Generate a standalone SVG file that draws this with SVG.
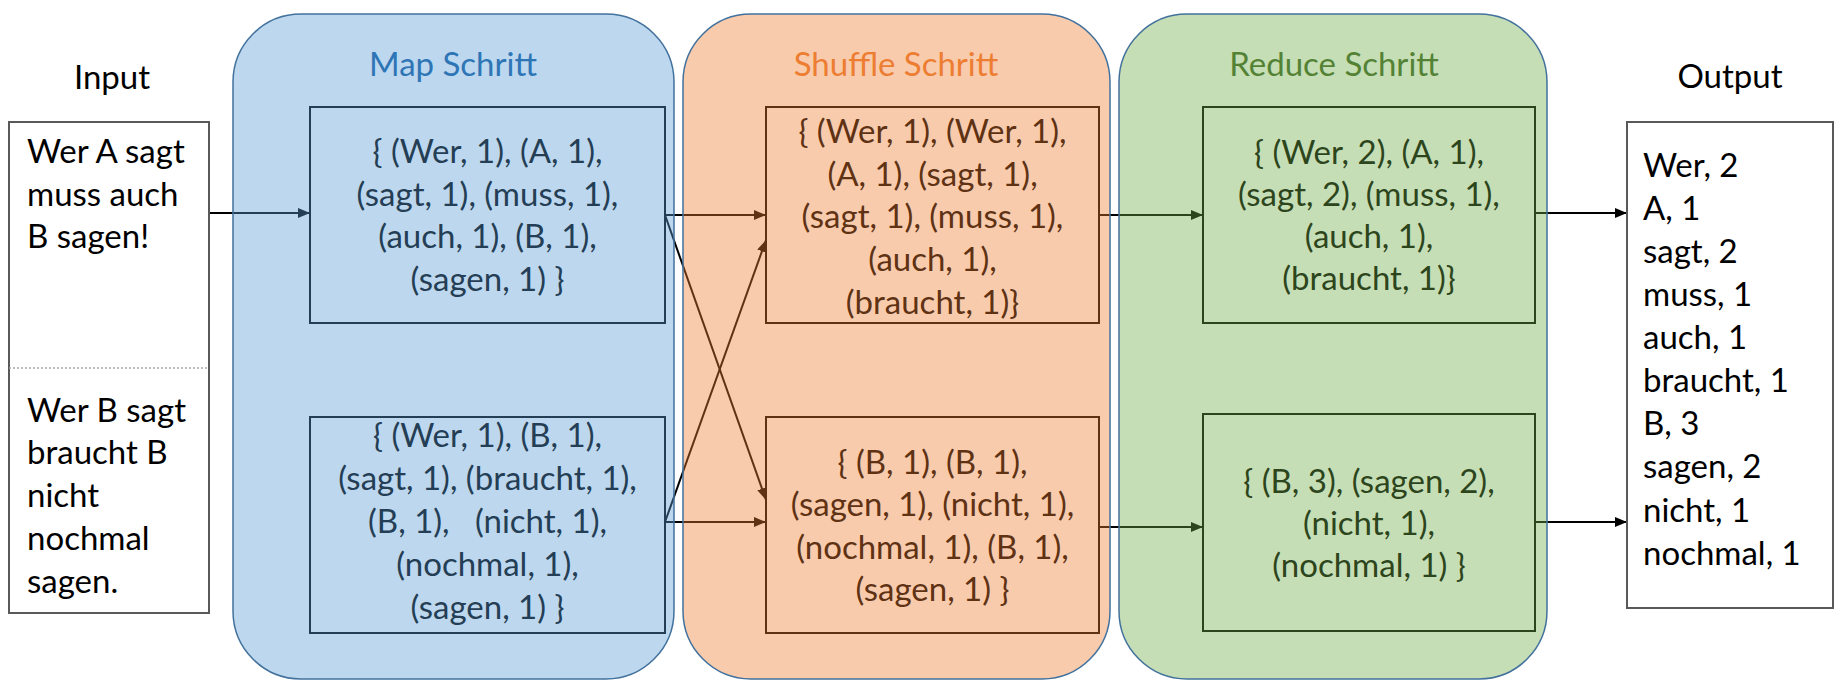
<svg xmlns="http://www.w3.org/2000/svg" width="1835" height="684" viewBox="0 0 1835 684">
<defs>
<marker id="ah" markerUnits="userSpaceOnUse" markerWidth="12" markerHeight="10" refX="12" refY="5" orient="auto">
<path d="M0,0 L12,5 L0,10 z" fill="#000"/>
</marker>
<style>
text{font-family:Lato,"Liberation Sans",sans-serif;font-size:33px}
.c{text-anchor:middle}
.con{stroke:#000;stroke-width:2;fill:none;marker-end:url(#ah)}
.panel{stroke:#41719C;stroke-width:1.5;fill-opacity:0.4}
.io{fill:#fff;stroke:#595959;stroke-width:2}
.bm{fill:none;stroke:#243E55;stroke-width:2}
.bs{fill:none;stroke:#5F3214;stroke-width:2}
.br{fill:none;stroke:#2D451C;stroke-width:2}
.tm{fill:#243E55}
.ts{fill:#5F3214}
.tr{fill:#2D451C}
</style>
</defs>
<rect width="1835" height="684" fill="#fff"/>
<g id="connectors">
<line class="con" x1="209" y1="213" x2="310" y2="213"/>
<line class="con" x1="665" y1="215" x2="766" y2="215"/>
<line class="con" x1="665" y1="215" x2="766" y2="500"/>
<line class="con" x1="665" y1="522" x2="766" y2="240"/>
<line class="con" x1="665" y1="522" x2="766" y2="522"/>
<line class="con" x1="1099" y1="215" x2="1203" y2="215"/>
<line class="con" x1="1099" y1="527" x2="1203" y2="527"/>
<line class="con" x1="1535" y1="213" x2="1627" y2="213"/>
<line class="con" x1="1535" y1="522" x2="1627" y2="522"/>
</g>
<g id="map-panel">
<rect class="panel" x="233" y="14" width="441" height="665" rx="68" ry="68" fill="#5B9BD5"/>
<text class="c" x="453" y="76" fill="#2E75B6">Map Schritt</text>
</g>
<g id="shuffle-panel">
<rect class="panel" x="683" y="14" width="427" height="665" rx="68" ry="68" fill="#ED7D31"/>
<text class="c" x="896" y="76" fill="#ED7D31">Shuffle Schritt</text>
</g>
<g id="reduce-panel">
<rect class="panel" x="1119" y="14" width="428" height="665" rx="68" ry="68" fill="#70AD47"/>
<text class="c" x="1334" y="76" fill="#548235">Reduce Schritt</text>
</g>
<g id="input">
<text class="c" x="112" y="89" fill="#000">Input</text>
<rect class="io" x="9" y="122" width="200" height="491"/>
<line x1="9" y1="368" x2="209" y2="368" stroke="#A6A6A6" stroke-width="1.5" stroke-dasharray="2,2"/>
<text x="27" fill="#000"><tspan x="27" y="163">Wer A sagt</tspan><tspan x="27" y="206">muss auch</tspan><tspan x="27" y="248">B sagen!</tspan></text>
<text x="27" fill="#000"><tspan x="27" y="422">Wer B sagt</tspan><tspan x="27" y="464">braucht B</tspan><tspan x="27" y="507">nicht</tspan><tspan x="27" y="550">nochmal</tspan><tspan x="27" y="593">sagen.</tspan></text>
</g>
<g id="map1">
<rect class="bm" x="310" y="107" width="355" height="216"/>
<text class="c tm"><tspan x="487.5" y="163">{ (Wer, 1), (A, 1),</tspan><tspan x="487.5" y="205.5">(sagt, 1), (muss, 1),</tspan><tspan x="487.5" y="248">(auch, 1), (B, 1),</tspan><tspan x="487.5" y="290.5">(sagen, 1) }</tspan></text>
</g>
<g id="map2">
<rect class="bm" x="310" y="417" width="355" height="216"/>
<text class="c tm" xml:space="preserve"><tspan x="487.5" y="447">{ (Wer, 1), (B, 1),</tspan><tspan x="487.5" y="490">(sagt, 1), (braucht, 1),</tspan><tspan x="487.5" y="533">(B, 1),   (nicht, 1),</tspan><tspan x="487.5" y="576">(nochmal, 1),</tspan><tspan x="487.5" y="619">(sagen, 1) }</tspan></text>
</g>
<g id="shuffle1">
<rect class="bs" x="766" y="107" width="333" height="216"/>
<text class="c ts"><tspan x="932.5" y="143">{ (Wer, 1), (Wer, 1),</tspan><tspan x="932.5" y="185.5">(A, 1), (sagt, 1),</tspan><tspan x="932.5" y="228">(sagt, 1), (muss, 1),</tspan><tspan x="932.5" y="271">(auch, 1),</tspan><tspan x="932.5" y="313.5">(braucht, 1)}</tspan></text>
</g>
<g id="shuffle2">
<rect class="bs" x="766" y="417" width="333" height="216"/>
<text class="c ts"><tspan x="932.5" y="474">{ (B, 1), (B, 1),</tspan><tspan x="932.5" y="516">(sagen, 1), (nicht, 1),</tspan><tspan x="932.5" y="559">(nochmal, 1), (B, 1),</tspan><tspan x="932.5" y="601">(sagen, 1) }</tspan></text>
</g>
<g id="reduce1">
<rect class="br" x="1203" y="107" width="332" height="216"/>
<text class="c tr"><tspan x="1369" y="164">{ (Wer, 2), (A, 1),</tspan><tspan x="1369" y="206">(sagt, 2), (muss, 1),</tspan><tspan x="1369" y="248">(auch, 1),</tspan><tspan x="1369" y="290">(braucht, 1)}</tspan></text>
</g>
<g id="reduce2">
<rect class="br" x="1203" y="414" width="332" height="217"/>
<text class="c tr"><tspan x="1369" y="493">{ (B, 3), (sagen, 2),</tspan><tspan x="1369" y="535">(nicht, 1),</tspan><tspan x="1369" y="577">(nochmal, 1) }</tspan></text>
</g>
<g id="output">
<text class="c" x="1730" y="88" fill="#000">Output</text>
<rect class="io" x="1627" y="122" width="206" height="486"/>
<text fill="#000"><tspan x="1643" y="177">Wer, 2</tspan><tspan x="1643" y="220">A, 1</tspan><tspan x="1643" y="263">sagt, 2</tspan><tspan x="1643" y="306">muss, 1</tspan><tspan x="1643" y="349">auch, 1</tspan><tspan x="1643" y="392">braucht, 1</tspan><tspan x="1643" y="435">B, 3</tspan><tspan x="1643" y="478">sagen, 2</tspan><tspan x="1643" y="522">nicht, 1</tspan><tspan x="1643" y="565">nochmal, 1</tspan></text>
</g>
</svg>
